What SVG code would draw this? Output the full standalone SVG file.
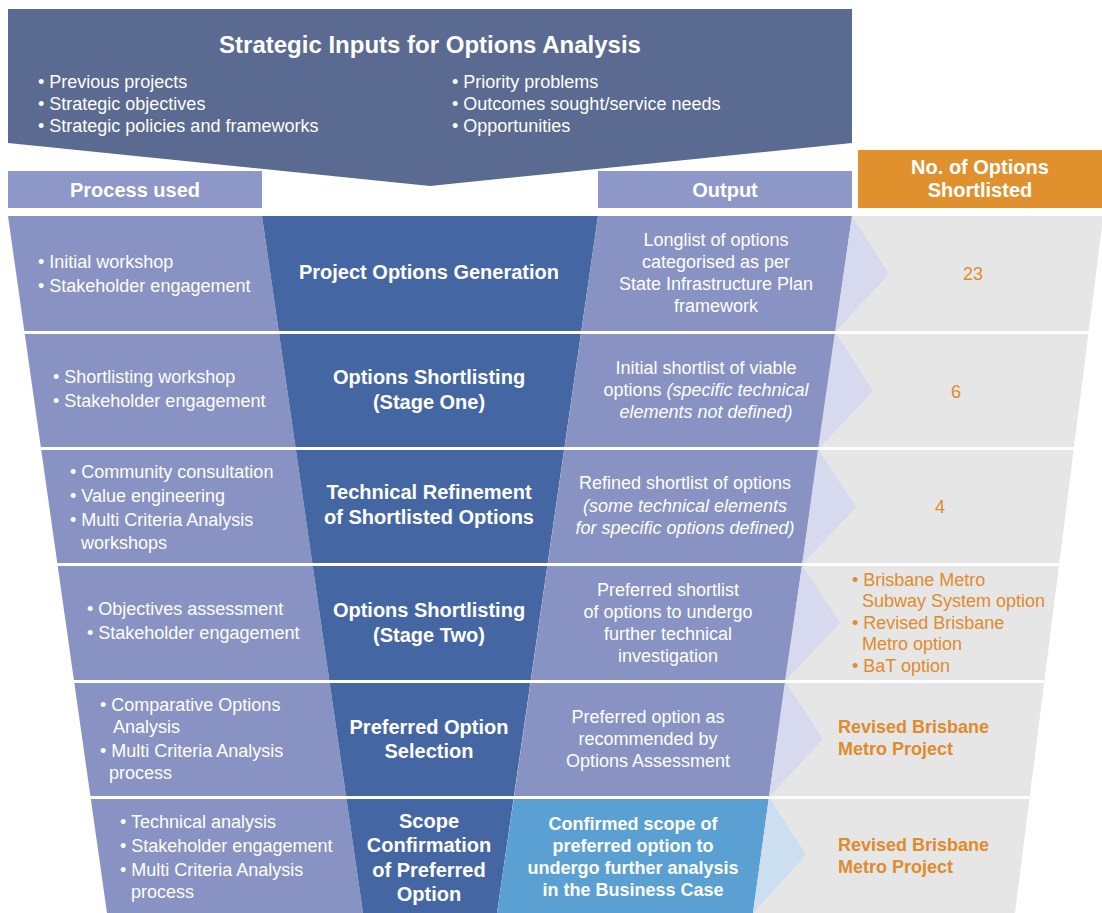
<svg xmlns="http://www.w3.org/2000/svg" width="1102" height="913" viewBox="0 0 1102 913">
<style>
text{font-family:"Liberation Sans",Arial,sans-serif;fill:#fff;font-size:18px}
.t{font-size:24px;font-weight:bold}
.h{font-size:20px;font-weight:bold}
.b{font-weight:bold}
.c{text-anchor:middle}
.o{fill:#e08b2c}
.i{font-style:italic}
.banner{fill:#5a6a91}
.peri{fill:#8893c3}
.hdr{fill:#8d98c8}
.dark{fill:#4467a3}
.grey{fill:#e6e6e6}
.chev{fill:#d7d9ee}
.sep{stroke:#fff;stroke-width:3}
</style>
<rect width="1102" height="913" fill="#fff"/>
<g id="banner">
<polygon class="banner" points="8,9 852,9 852,143 430,186 8,143"/>
<text class="t c" x="430" y="53">Strategic Inputs for Options Analysis</text>
<text x="38" y="88">• Previous projects</text>
<text x="38" y="110">• Strategic objectives</text>
<text x="38" y="132">• Strategic policies and frameworks</text>
<text x="452" y="88">• Priority problems</text>
<text x="452" y="110">• Outcomes sought/service needs</text>
<text x="452" y="132">• Opportunities</text>
</g>
<g id="header-process">
<rect class="hdr" x="8" y="171" width="254" height="37"/>
<text class="h c" x="135" y="197">Process used</text>
</g>
<g id="header-output">
<rect class="hdr" x="598" y="171" width="254" height="37"/>
<text class="h c" x="725" y="197">Output</text>
</g>
<g id="header-count">
<rect x="858" y="150" width="244" height="58" fill="#e0912d"/>
<text class="h c" x="980" y="174">No. of Options</text>
<text class="h c" x="980" y="197">Shortlisted</text>
</g>
<g id="funnel">
<polygon class="grey" points="852,216 1102,216 1102,226 1015,913 753,913"/>
<polygon class="peri" points="8,216 262,216 363,913 107,913"/>
<polygon class="dark" points="262,216 598,216 497,913 363,913"/>
<polygon class="peri" points="598,216 852,216 769,797 514,797"/>
<polygon fill="#5aa0d2" points="514,797 769,797 753,913 497,913"/>
<polygon class="chev" points="852,216 889,274 835,332"/>
<polygon class="chev" points="835,332 873,391 818,449"/>
<polygon class="chev" points="818,449 856,507 802,565"/>
<polygon class="chev" points="802,565 840,623 785,681"/>
<polygon class="chev" points="785,681 823,739 769,797"/>
<polygon fill="#cbdff0" points="769,797 806,855 753,913"/>
</g>
<g id="connectors">
<line class="sep" x1="0" y1="332.5" x2="1102" y2="332.5"/>
<line class="sep" x1="0" y1="448.5" x2="1102" y2="448.5"/>
<line class="sep" x1="0" y1="564.5" x2="1102" y2="564.5"/>
<line class="sep" x1="0" y1="681.5" x2="1102" y2="681.5"/>
<line class="sep" x1="0" y1="797.5" x2="1102" y2="797.5"/>
</g>
<g id="row1">
<text x="38" y="268">• Initial workshop</text>
<text x="38" y="292">• Stakeholder engagement</text>
<text class="h c" x="429" y="279">Project Options Generation</text>
<text class="c" x="716" y="246">Longlist of options</text>
<text class="c" x="716" y="268">categorised as per</text>
<text class="c" x="716" y="290">State Infrastructure Plan</text>
<text class="c" x="716" y="312">framework</text>
<text class="c o" x="973" y="280">23</text>
</g>
<g id="row2">
<text x="53" y="383">• Shortlisting workshop</text>
<text x="53" y="407">• Stakeholder engagement</text>
<text class="h c" x="429" y="384">Options Shortlisting</text>
<text class="h c" x="429" y="409">(Stage One)</text>
<text class="c" x="706" y="374">Initial shortlist of viable</text>
<text class="c" x="706" y="396">options <tspan class="i">(specific technical</tspan></text>
<text class="c i" x="706" y="418">elements not defined)</text>
<text class="c o" x="956" y="398">6</text>
</g>
<g id="row3">
<text x="70" y="478">• Community consultation</text>
<text x="70" y="502">• Value engineering</text>
<text x="70" y="526">• Multi Criteria Analysis</text>
<text x="81" y="549">workshops</text>
<text class="h c" x="429" y="499">Technical Refinement</text>
<text class="h c" x="429" y="524">of Shortlisted Options</text>
<text class="c" x="685" y="489">Refined shortlist of options</text>
<text class="c i" x="685" y="512">(some technical elements</text>
<text class="c i" x="685" y="534">for specific options defined)</text>
<text class="c o" x="940" y="513">4</text>
</g>
<g id="row4">
<text x="87" y="615">• Objectives assessment</text>
<text x="87" y="639">• Stakeholder engagement</text>
<text class="h c" x="429" y="617">Options Shortlisting</text>
<text class="h c" x="429" y="642">(Stage Two)</text>
<text class="c" x="668" y="596">Preferred shortlist</text>
<text class="c" x="668" y="618">of options to undergo</text>
<text class="c" x="668" y="640">further technical</text>
<text class="c" x="668" y="662">investigation</text>
<text class="o" x="852" y="586">• Brisbane Metro</text>
<text class="o" x="862" y="607">Subway System option</text>
<text class="o" x="852" y="629">• Revised Brisbane</text>
<text class="o" x="862" y="650">Metro option</text>
<text class="o" x="852" y="672">• BaT option</text>
</g>
<g id="row5">
<text x="100" y="711">• Comparative Options</text>
<text x="113" y="733">Analysis</text>
<text x="100" y="757">• Multi Criteria Analysis</text>
<text x="109" y="779">process</text>
<text class="h c" x="429" y="734">Preferred Option</text>
<text class="h c" x="429" y="758">Selection</text>
<text class="c" x="648" y="723">Preferred option as</text>
<text class="c" x="648" y="745">recommended by</text>
<text class="c" x="648" y="767">Options Assessment</text>
<text class="o b" x="838" y="733">Revised Brisbane</text>
<text class="o b" x="838" y="755">Metro Project</text>
</g>
<g id="row6">
<text x="120" y="828">• Technical analysis</text>
<text x="120" y="852">• Stakeholder engagement</text>
<text x="120" y="876">• Multi Criteria Analysis</text>
<text x="131" y="898">process</text>
<text class="h c" x="429" y="828">Scope</text>
<text class="h c" x="429" y="852">Confirmation</text>
<text class="h c" x="429" y="877">of Preferred</text>
<text class="h c" x="429" y="901">Option</text>
<text class="c b" x="633" y="830">Confirmed scope of</text>
<text class="c b" x="633" y="852">preferred option to</text>
<text class="c b" x="633" y="874">undergo further analysis</text>
<text class="c b" x="633" y="896">in the Business Case</text>
<text class="o b" x="838" y="851">Revised Brisbane</text>
<text class="o b" x="838" y="873">Metro Project</text>
</g>
</svg>
